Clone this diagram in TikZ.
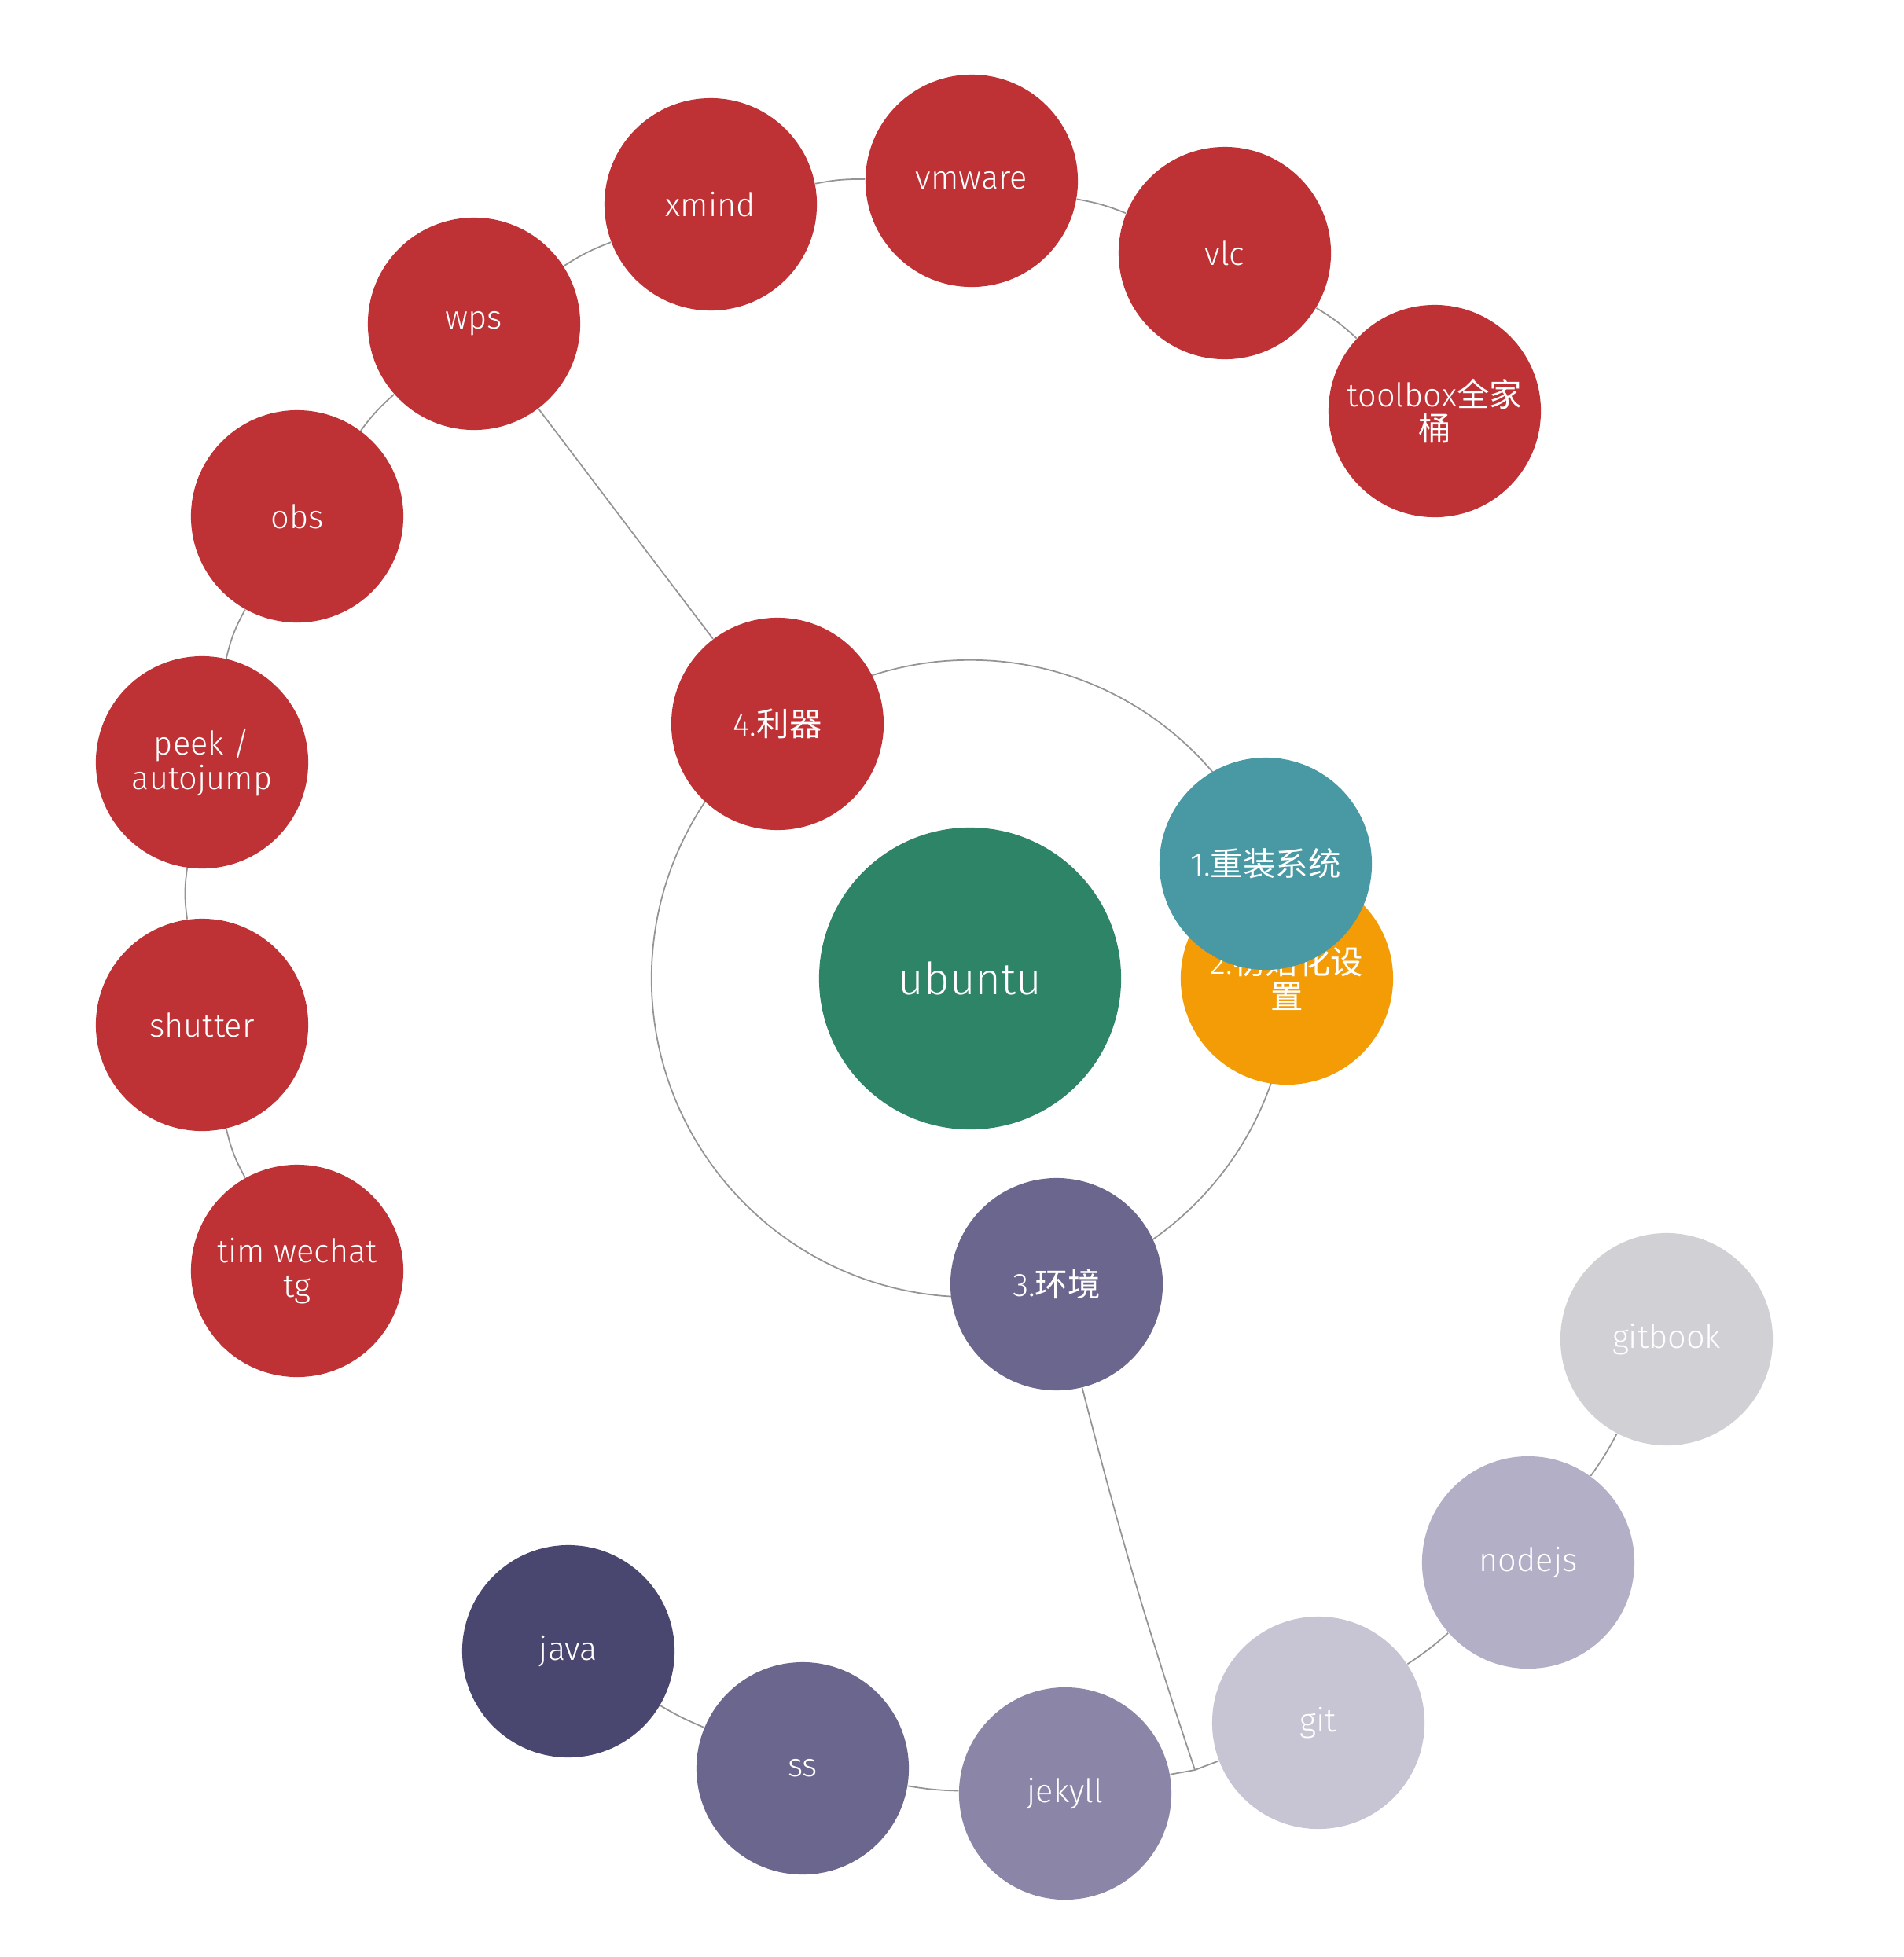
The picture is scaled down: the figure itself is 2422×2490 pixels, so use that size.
\documentclass[tikz,border=0pt]{standalone}
\usepackage{fontspec}
\setmainfont{Fira Sans}[UprightFont=* Light]
\newfontfamily\cjk{Noto Sans CJK SC}
\usepackage{xcolor}
\usepackage{tikz}
\usetikzlibrary{backgrounds}
\definecolor{UbuC}{RGB}{46,132,102}
\definecolor{ToolC}{RGB}{190,50,53}
\definecolor{SysC}{RGB}{72,153,163}
\definecolor{InitC}{RGB}{243,156,5}
\definecolor{EnvC}{RGB}{106,102,141}
\definecolor{JavaC}{RGB}{73,70,111}
\definecolor{JekC}{RGB}{139,134,168}
\definecolor{GitC}{RGB}{199,197,212}
\definecolor{NodeC}{RGB}{178,175,198}
\definecolor{BookC}{RGB}{208,208,213}
\tikzset{
  bub/.style={circle,inner sep=0pt,minimum size=2.7cm,text=white,
              align=center,font=\fontsize{11.8}{12.4}\selectfont},
  tool/.style={bub,fill=ToolC},
  env/.style={bub,fill=#1},
  link/.style={draw=black!42,line width=0.5pt},
}

\begin{document}
\begin{tikzpicture}[x=0.01cm,y=-0.01cm]
  \useasboundingbox (0,0) rectangle (2422,2490);

  % centre and first ring
  \node[bub,minimum size=3.84cm,fill=UbuC,
        font=\fontsize{16}{17}\selectfont] (ubuntu) at (1234,1245) {ubuntu};
  \node[tool] (tools) at (989,921) {4.{\cjk 利器}};
  \node[bub,fill=InitC] (init) at (1637,1245) {2.{\cjk 初始化设}\\{\cjk 置}};
  \node[bub,fill=SysC] (sys) at (1610,1099) {1.{\cjk 重装系统}};
  \node[env=EnvC] (env) at (1344,1634) {3.{\cjk 环境}};

  % tools
  \node[tool] (tim)     at (378,1617) {tim wechat\\tg};
  \node[tool] (shutter) at (257,1304) {shutter};
  \node[tool] (peek)    at (257,970)  {peek /\\autojump};
  \node[tool] (obs)     at (378,657)  {obs};
  \node[tool] (wps)     at (603,412)  {wps};
  \node[tool] (xmind)   at (904,260)  {xmind};
  \node[tool] (vmware)  at (1236,230) {vmware};
  \node[tool] (vlc)     at (1558,322) {vlc};
  \node[tool] (toolbox) at (1825,523) {toolbox{\cjk 全家}\\{\cjk 桶}};

  % environment
  \node[env=JavaC] (java)    at (723,2101)  {java};
  \node[env=EnvC]  (ss)      at (1021,2250) {ss};
  \node[env=JekC]  (jekyll)  at (1355,2282) {jekyll};
  \node[env=GitC]  (git)     at (1677,2192) {git};
  \node[env=NodeC] (nodejs)  at (1944,1988) {nodejs};
  \node[env=BookC] (gitbook) at (2120,1704) {gitbook};
  \coordinate (envjoin) at (1520,2252);

  \begin{scope}[on background layer]
    \draw[link] (ubuntu.center) circle[radius=4.05cm];
    \draw[link] (tools) -- (wps);
    \draw[link] (tim) to[bend left=8] (shutter);
    \draw[link] (shutter) to[bend left=8] (peek);
    \draw[link] (peek) to[bend left=8] (obs);
    \draw[link] (obs) to[bend left=6] (wps);
    \draw[link] (wps) to[bend left=6] (xmind);
    \draw[link] (xmind) to[bend left=6] (vmware);
    \draw[link] (vmware) to[bend left=6] (vlc);
    \draw[link] (vlc) to[bend left=6] (toolbox);
    \draw[link] (env) to[bend right=2] (envjoin);
    \draw[link] (jekyll) -- (envjoin) -- (git);
    \draw[link] (java) to[bend right=4] (ss);
    \draw[link] (ss) to[bend right=4] (jekyll);
    \draw[link] (git) to[bend right=4] (nodejs);
    \draw[link] (nodejs) to[bend right=4] (gitbook);
  \end{scope}
\end{tikzpicture}
\end{document}
